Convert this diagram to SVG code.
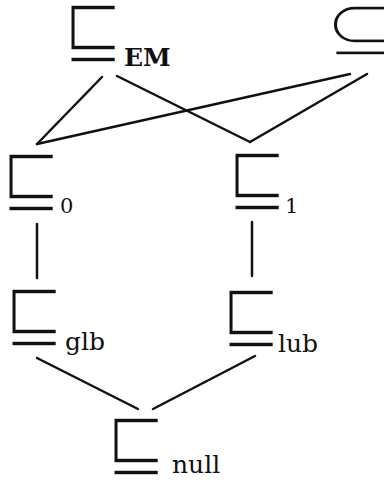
<svg xmlns="http://www.w3.org/2000/svg" width="384" height="483" viewBox="0 0 384 483">
<style>
.sym{font-family:"DejaVu Sans",sans-serif;font-size:74px;fill:#111;stroke:#fff;stroke-width:3;stroke-linejoin:miter;paint-order:fill}
.lbl{font-family:"DejaVu Serif",serif;font-size:25px;fill:#111}
.dig{font-size:21px}
.edge{stroke:#111;stroke-width:2.5;stroke-linecap:round;fill:none}
</style>
<rect width="384" height="483" fill="#fff"/>
<g id="connectors">
<line class="edge" x1="102" y1="77" x2="37" y2="144"/>
<line class="edge" x1="117" y1="76" x2="250" y2="142"/>
<line class="edge" x1="37" y1="144" x2="350" y2="74"/>
<line class="edge" x1="367" y1="74" x2="250" y2="142"/>
<line class="edge" x1="37" y1="224" x2="37" y2="278"/>
<line class="edge" x1="252" y1="222" x2="252" y2="276"/>
<line class="edge" x1="37" y1="358" x2="138" y2="409"/>
<line class="edge" x1="255" y1="356" x2="153" y2="409"/>
</g>
<g id="node-em"><text class="sym" transform="translate(62,55.5) scale(1,1.12)">⊑</text><text class="lbl" x="124" y="66" font-weight="bold">EM</text></g>
<g id="node-sub"><text class="sym" transform="translate(323,55.5) scale(1.3,1.12)">⊆</text></g>
<g id="node-0"><text class="sym" transform="translate(0,204.5) scale(1,1.12)">⊑</text><text class="lbl dig" x="60" y="213">0</text></g>
<g id="node-1"><text class="sym" transform="translate(226,203.5) scale(1,1.12)">⊑</text><text class="lbl dig" x="285" y="213">1</text></g>
<g id="node-glb"><text class="sym" transform="translate(3,339.5) scale(1,1.12)">⊑</text><text class="lbl" x="65" y="350">glb</text></g>
<g id="node-lub"><text class="sym" transform="translate(220,340.5) scale(1,1.12)">⊑</text><text class="lbl" x="278" y="352">lub</text></g>
<g id="node-null"><text class="sym" transform="translate(105,468.5) scale(1,1.12)">⊑</text><text class="lbl" x="172" y="473">null</text></g>
</svg>
